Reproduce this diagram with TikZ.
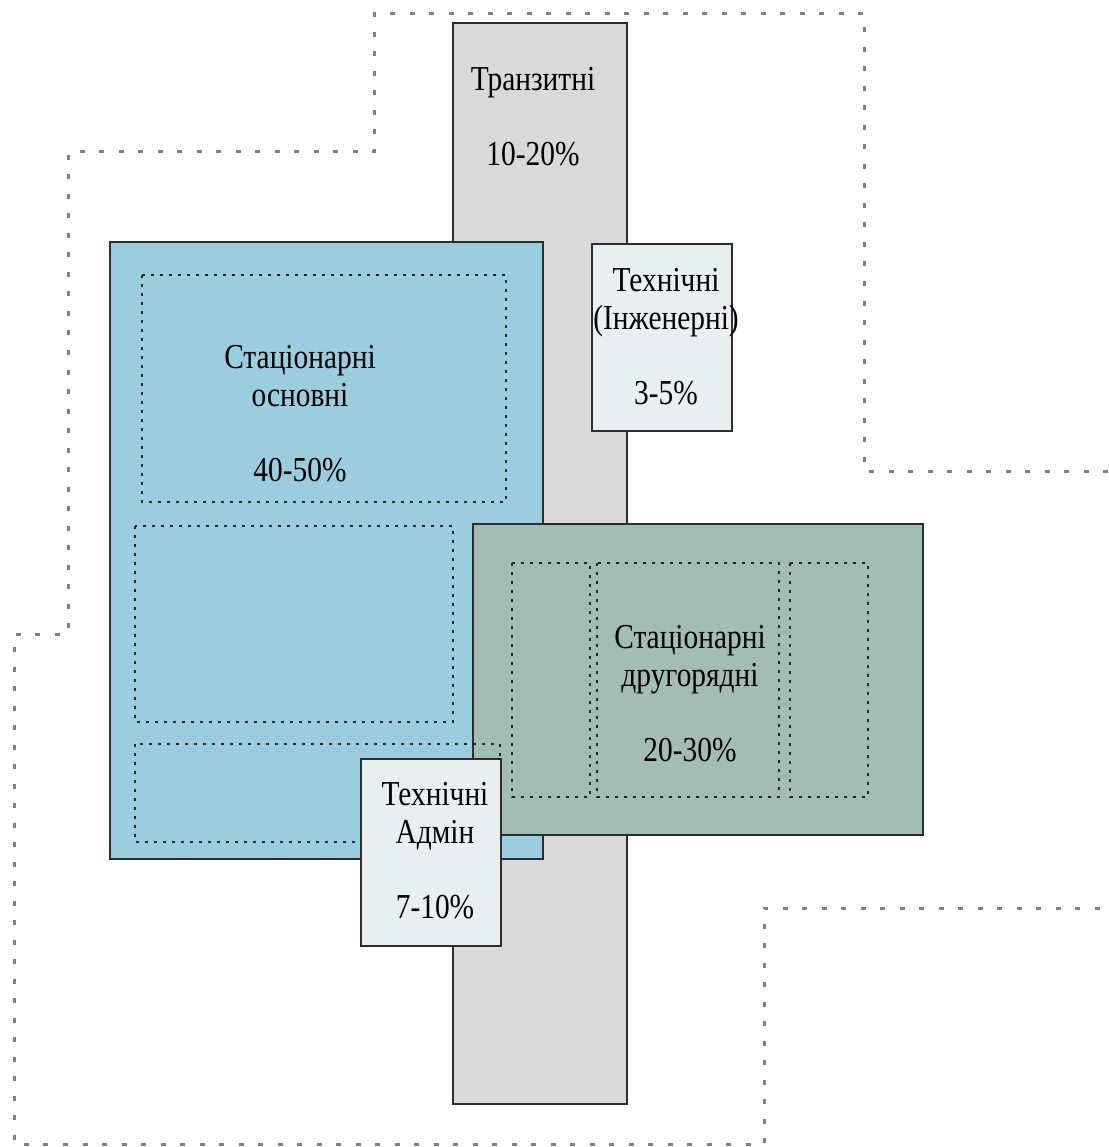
\documentclass[tikz,border=0pt]{standalone}
\usepackage{fontspec}
\newfontfamily\zonefont{Liberation Serif}[FakeStretch=0.84]
\definecolor{edge}{RGB}{45,45,45}
\definecolor{transitgray}{RGB}{217,217,217}
\definecolor{mainblue}{RGB}{154,206,223}
\definecolor{secondgreen}{RGB}{162,189,180}
\definecolor{techpale}{RGB}{233,239,238}

\begin{document}
\begin{tikzpicture}[x=1pt, y=-1pt,
      zone/.style={draw=edge, line width=2.1pt},
      subzone/.style={draw=black!85, line width=2.8pt, dash pattern=on 2.6pt off 6.4pt},
      bound/.style={draw=black!50, line width=3pt, dash pattern=on 5pt off 14.5pt},
      lbl/.style={font=\zonefont\fontsize{35}{37.5}\selectfont, align=center,
                  anchor=base, inner sep=0pt}]
    \useasboundingbox (0,0) rectangle (1108,1147);
    % outer boundary of the site
    \draw[bound] (1108,471) -- (864,471) -- (864,14) -- (374,14) -- (374,152)
      -- (68,152) -- (68,634) -- (14,634) -- (14,1144) -- (764,1144)
      -- (764,908) -- (1108,908);
    % transit strip
    \draw[zone, fill=transitgray] (453,23) rectangle (627,1104);
    % main stationary block
    \draw[zone, fill=mainblue] (110,242) rectangle (543,859);
    \draw[subzone] (142,275) rectangle (506,502);
    \draw[subzone] (135,526) rectangle (453,722);
    % technical (engineering)
    \draw[zone, fill=techpale] (592,244) rectangle (732,431);
    % secondary stationary block
    \draw[zone, fill=secondgreen] (473,524) rectangle (923,835);
    \foreach \xa/\xb in {512/590, 597/779, 790/868}{
      \draw[subzone] (\xa,563) rectangle (\xb,797);
    }
    \draw[subzone] (135,744) rectangle (500,842);
    % technical (admin)
    \draw[zone, fill=techpale] (361,759) rectangle (501,946);
    % labels
    \node[lbl] (transit) at (533,166) {Транзитні\\[37.5pt]10-20\%};
    \node[lbl] (mainst) at (300,481) {Стаціонарні\\основні\\[37.5pt]40-50\%};
    \node[lbl] (techeng) at (666,404) {Технічні\\(Інженерні)\\[37.5pt]3-5\%};
    \node[lbl] (secst) at (690,761) {Стаціонарні\\другорядні\\[37.5pt]20-30\%};
    \node[lbl] (techadm) at (435,918) {Технічні\\Адмін\\[37.5pt]7-10\%};
  \end{tikzpicture}
\end{document}
